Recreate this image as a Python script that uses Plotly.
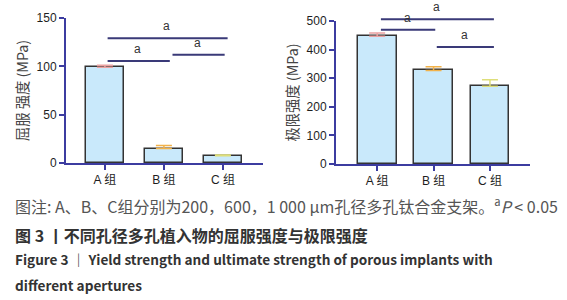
import plotly.graph_objects as go

groups = ["A 组", "B 组", "C 组"]
yield_vals = [99, 15, 7.5]
yield_err = [2, 3, 0.8]
ult_vals = [447, 327, 272]
ult_err = [11, 13, 23]
err_colors = ["#eaa2a2", "#f2b24a", "#dede7a"]

# significance brackets: (x_start, x_end, line y) in data units
yield_sig = [(0.02, 2.08, 129), (0.02, 1.10, 105.5), (1.12, 2.03, 112)]
ult_sig = [(0.04, 2.07, 506), (0.04, 1.03, 469), (1.03, 2.07, 409)]
yield_max = 150
ult_max = 500

AXIS = "#3c3ca0"
FONT = "Liberation Sans, Noto Sans CJK SC, sans-serif"
CJK = "Noto Sans CJK SC, sans-serif"

fig = go.Figure()
xs = [0, 1, 2]
for i in range(3):
    fig.add_trace(go.Bar(x=[xs[i]], y=[yield_vals[i]], width=0.65,
                         marker=dict(color="#c9e9fb", line=dict(color="#333333", width=1.5)),
                         error_y=dict(type="data", array=[yield_err[i]], arrayminus=[0], symmetric=False,
                                      color=err_colors[i], thickness=1.5, width=8),
                         xaxis="x", yaxis="y", showlegend=False))
    fig.add_trace(go.Bar(x=[xs[i]], y=[ult_vals[i]], width=0.69,
                         marker=dict(color="#c9e9fb", line=dict(color="#333333", width=1.5)),
                         error_y=dict(type="data", array=[ult_err[i]], arrayminus=[0], symmetric=False,
                                      color=err_colors[i], thickness=1.5, width=8),
                         xaxis="x2", yaxis="y2", showlegend=False))

W, H = 567, 300
def px(x):
    return x / W
def py(y):
    return 1 - y / H

ax_common = dict(showline=True, linecolor=AXIS, linewidth=2, showgrid=False, zeroline=False,
                 ticks="outside", tickcolor=AXIS, tickwidth=2, ticklen=5, automargin=False,
                 tickfont=dict(family=FONT, size=12, color="#1e1e1e"))

fig.update_layout(
    width=W, height=H, margin=dict(l=0, r=0, t=0, b=0, autoexpand=False),
    paper_bgcolor="white", plot_bgcolor="white", bargap=0,
    xaxis=dict(domain=[px(66), px(263)], range=[-0.66, 2.68], anchor="y",
               tickvals=xs, ticktext=groups, **ax_common),
    yaxis=dict(domain=[py(163), py(18)], range=[0, yield_max], anchor="x",
               tickvals=[0, 50, 100, 150],
               title=dict(text="屈服 强度 (MPa)", font=dict(family=CJK, size=14.3, color="#444444"), standoff=5),
               **ax_common),
    xaxis2=dict(domain=[px(336), px(530)], range=[-0.73, 2.71], anchor="y2",
                tickvals=xs, ticktext=groups, **ax_common),
    yaxis2=dict(domain=[py(164), py(21)], range=[0, ult_max], anchor="x2",
                tickvals=[0, 100, 200, 300, 400, 500],
                title=dict(text="极限强度 (MPa)", font=dict(family=CJK, size=14.3, color="#444444"), standoff=5),
                **ax_common),
)

annots = []
def add_sig(sig, xr, yr, ymax):
    for (x0, x1, y) in sig:
        if y > ymax:
            ref, yy = yr + " domain", y / ymax
        else:
            ref, yy = yr, y
        annots.append(dict(x=x1, y=yy, ax=x0, ay=yy, xref=xr, yref=ref, axref=xr, ayref=ref,
                           text="", showarrow=True, arrowhead=0, arrowwidth=2,
                           arrowcolor="#3a3a78", standoff=0, startstandoff=0))
        annots.append(dict(x=(x0 + x1) / 2, y=yy, xref=xr, yref=ref, text="a", showarrow=False,
                           yanchor="bottom", yshift=3,
                           font=dict(family=FONT, size=12, color="#333333")))
add_sig(yield_sig, "x", "y", yield_max)
add_sig(ult_sig, "x2", "y2", ult_max)

cap = [
    ("图注: A、B、C组分别为200，600，1 000 μm孔径多孔钛合金支架。<sup>a</sup><i>P</i> < 0.05", 205, 16, "#555555"),
    ("<b>图 3 丨不同孔径多孔植入物的屈服强度与极限强度</b>", 235, 16, "#333333"),
    ("<b>Figure 3 ｜ Yield strength and ultimate strength of porous implants with</b>", 259, 13.6, "#333333"),
    ("<b>different apertures</b>", 285, 13.6, "#333333"),
]
for text, y, size, color in cap:
    annots.append(dict(x=px(13), y=py(y), xref="paper", yref="paper", xanchor="left", yanchor="middle",
                       text=text, showarrow=False, font=dict(family=CJK, size=size, color=color)))

fig.update_layout(annotations=annots)
fig.write_html("out.html", config={"displayModeBar": False},
               post_script="document.body.style.margin='0';document.body.style.overflow='hidden';")
